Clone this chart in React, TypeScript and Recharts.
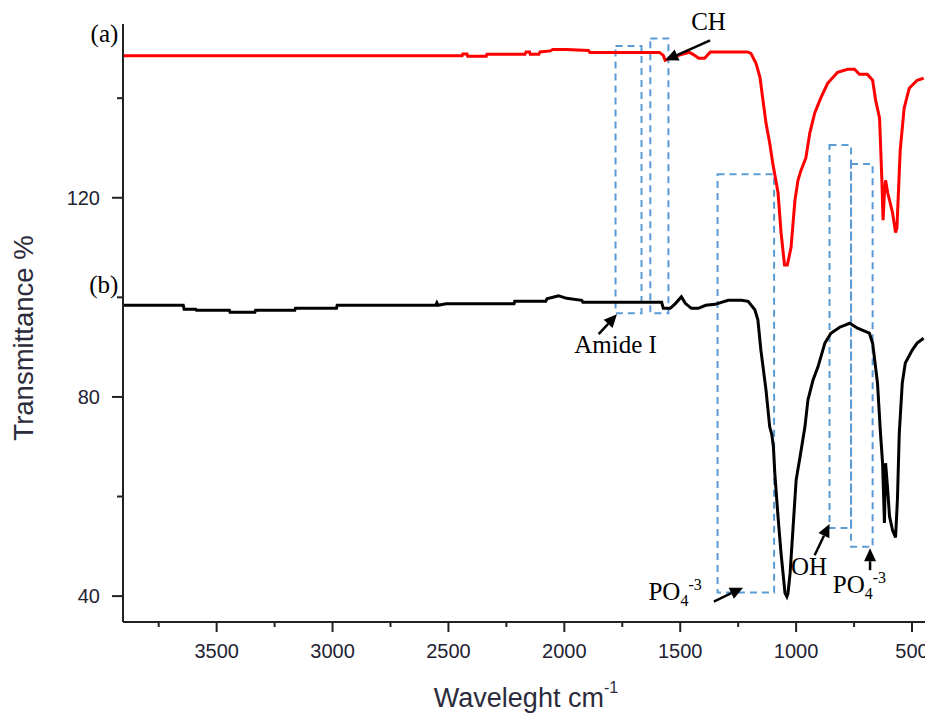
import React from 'react';
import { LineChart, Line, XAxis, YAxis, ReferenceArea, ReferenceLine, ReferenceDot } from 'recharts';

// spectrum (a) - red
const wavesA = [
  3904, 2441, 2438, 2420, 2417, 2337, 2334, 2170, 2165, 2150, 2147, 2110, 2105, 2060, 2050, 1990,
  1896, 1890, 1590, 1573, 1565, 1545, 1500, 1460, 1445, 1420, 1395, 1370, 1210, 1195, 1173, 1156,
  1143, 1130, 1114, 1101, 1078, 1065, 1050, 1038, 1022, 1005, 992, 979, 958, 941, 920, 894, 864,
  821, 778, 748, 727, 693, 670, 657, 640, 636, 630, 625, 619, 614, 605, 597, 584, 571, 565, 551,
  534, 512, 478, 450,
];
const transA = [
  148.5, 148.5, 148.9, 148.9, 148.4, 148.4, 148.8, 148.8, 149.3, 149.3, 148.8, 148.8, 149.3, 149.5, 149.8, 149.8,
  149.6, 149.2, 149.2, 148.6, 147.6, 148.0, 148.7, 149.2, 148.8, 148.0, 148.0, 149.3, 149.3, 149.0, 147.0, 144.2,
  139.6, 135.0, 131.0, 127.0, 121.0, 113.0, 106.5, 106.5, 110.0, 119.5, 123.5, 125.5, 128.0, 133.0, 137.0, 140.0, 143.0,
  145.2, 145.8, 145.8, 144.8, 144.8, 143.6, 139.6, 136.0, 131.0, 123.5, 115.5, 121.0, 123.5, 121.0, 119.5, 117.0, 113.0, 114.0, 129.5,
  138.0, 142.0, 143.6, 144.0,
];

// spectrum (b) - black
const wavesB = [
  3904, 3644, 3640, 3590, 3587, 3445, 3442, 3335, 3332, 3163, 3160, 2983, 2980, 2555, 2550, 2545,
  2510, 2217, 2214, 2080, 2075, 2025, 2010, 1990, 1925, 1920, 1580, 1573, 1543, 1520, 1495, 1478,
  1452, 1422, 1390, 1350, 1293, 1236, 1207, 1178, 1165, 1152, 1130, 1114, 1105, 1098, 1092, 1078,
  1065, 1048, 1040, 1035, 1026, 1013, 1000, 983, 962, 949, 927, 906, 876, 850, 812, 769, 735, 684,
  670, 649, 636, 627, 619, 614, 606, 597, 584, 571, 563, 555, 542, 529, 499, 478, 450,
];
const transB = [
  98.4, 98.4, 97.6, 97.6, 97.4, 97.4, 97.0, 97.0, 97.4, 97.4, 97.8, 97.8, 98.4, 98.4, 98.9, 98.4,
  98.7, 98.7, 99.2, 99.2, 99.7, 100.3, 100.1, 99.8, 99.4, 99.0, 99.0, 97.8, 97.8, 98.8, 100.1, 98.8,
  97.8, 97.8, 98.4, 98.6, 99.4, 99.4, 99.2, 97.5, 95.5, 89.4, 81.4, 74.0, 72.5, 70.0, 64.7, 55.9,
  48.6, 40.6, 39.9, 40.6, 44.6, 53.9, 63.3, 68.0, 74.0, 79.4, 83.4, 86.0, 90.8, 92.8, 94.0, 94.8, 93.8, 92.8,
  90.8, 82.8, 72.7, 66.7, 54.7, 66.7, 62.0, 56.0, 53.2, 51.8, 59.3, 72.7, 82.8, 86.8, 89.4, 90.8, 91.8,
];

const xMajor = [3500, 3000, 2500, 2000, 1500, 1000, 500];
const xMinor = [3750, 3250, 2750, 2250, 1750, 1250, 750];
const yMajor = [40, 80, 120];
const yMinor = [60, 100, 140];

// dashed boxes: [wn left, wn right, T top, T bottom]
const boxes = [
  [1779, 1667, 150.5, 96.8],
  [1629, 1551, 152.0, 96.8],
  [1339, 1095, 124.7, 40.7],
  [856, 763, 130.6, 53.7],
  [763, 670, 126.8, 49.9],
];

// arrows: [tail wn, tail T, tip wn, tip T]
const arrows = [
  [1371, 151.6, 1565, 147.6],
  [1852, 92.6, 1773, 96.6],
  [1355, 38.9, 1229, 41.7],
  [920, 48.2, 856, 54.5],
  [681, 45.2, 681, 49.6],
];

const dataA = wavesA.map((w, i) => ({ wn: w, t: transA[i] }));
const dataB = wavesB.map((w, i) => ({ wn: w, t: transB[i] }));

const AXIS = '#222';
const TICK_TEXT = '#222233';
const SANS = '"Liberation Sans", Arial, sans-serif';
const SERIF = '"Liberation Serif", "Times New Roman", serif';

const XTick = (props: any) => {
  const { x, y, payload } = props;
  const major = xMajor.includes(payload.value);
  return (
    <g>
      <line x1={x} y1={y} x2={x} y2={y + (major ? 10 : 5)} stroke={AXIS} strokeWidth={2} />
      {major && (
        <text x={x} y={y + 36} textAnchor="middle" fontFamily={SANS} fontSize={20} fill={TICK_TEXT}>
          {payload.value}
        </text>
      )}
    </g>
  );
};

const YTick = (props: any) => {
  const { x, y, payload } = props;
  const major = yMajor.includes(payload.value);
  return (
    <g>
      <line x1={x} y1={y} x2={x - (major ? 11 : 6)} y2={y} stroke={AXIS} strokeWidth={2} />
      {major && (
        <text x={x - 23} y={y + 7} textAnchor="end" fontFamily={SANS} fontSize={20} fill={TICK_TEXT}>
          {payload.value}
        </text>
      )}
    </g>
  );
};

const Arrow = (p: any) => {
  const { x1, y1, x2, y2 } = p;
  const a = Math.atan2(y2 - y1, x2 - x1);
  const len = 13;
  const hw = 6;
  const bx = x2 - len * Math.cos(a);
  const by = y2 - len * Math.sin(a);
  const px = -Math.sin(a) * hw;
  const py = Math.cos(a) * hw;
  return (
    <g>
      <line x1={x1} y1={y1} x2={bx} y2={by} stroke="#000" strokeWidth={2.5} />
      <polygon points={`${x2},${y2} ${bx + px},${by + py} ${bx - px},${by - py}`} fill="#000" />
    </g>
  );
};

const note = (content: React.ReactNode, anchor: string) => (p: any) => (
  <text x={p.cx} y={p.cy} textAnchor={anchor} fontFamily={SERIF} fontSize={25} fill="#000">
    {content}
  </text>
);

const po4 = (
  <>
    PO<tspan fontSize={16} dy={6}>4</tspan>
    <tspan fontSize={16} dy={-16}>-3</tspan>
  </>
);

const App: React.FC = () => {
  return (
    <div style={{ position: 'absolute', left: 0, top: 0, width: 925, height: 715, background: '#fff' }}>
      <LineChart width={925} height={715} margin={{ top: 24, right: 0, bottom: 0, left: 0 }}>
        <XAxis
          dataKey="wn"
          type="number"
          domain={[444, 3904]}
          reversed
          allowDataOverflow
          ticks={[...xMinor, ...xMajor].sort((a, b) => b - a)}
          interval={0}
          tickSize={0}
          tickMargin={0}
          tick={<XTick />}
          axisLine={{ stroke: AXIS, strokeWidth: 2 }}
          height={93}
        />
        <YAxis
          type="number"
          domain={[34.8, 154.9]}
          allowDataOverflow
          ticks={[...yMajor, ...yMinor].sort((a, b) => a - b)}
          interval={0}
          tickSize={0}
          tickMargin={0}
          tick={<YTick />}
          axisLine={{ stroke: AXIS, strokeWidth: 2 }}
          width={123}
        />

        {boxes.map((b, i) => (
          <ReferenceArea
            key={`box-${i}`}
            x1={b[0]}
            x2={b[1]}
            y1={b[2]}
            y2={b[3]}
            fill="none"
            fillOpacity={0}
            stroke="#5B9BD5"
            strokeWidth={2}
            strokeDasharray="7 5"
            ifOverflow="visible"
          />
        ))}

        <Line data={dataA} dataKey="t" stroke="#ff0000" strokeWidth={3} dot={false} type="linear" isAnimationActive={false} />
        <Line data={dataB} dataKey="t" stroke="#000000" strokeWidth={3} dot={false} type="linear" isAnimationActive={false} />

        {arrows.map((a, i) => (
          <ReferenceLine
            key={`arrow-${i}`}
            segment={[{ x: a[0], y: a[1] }, { x: a[2], y: a[3] }]}
            ifOverflow="visible"
            shape={(p: any) => <Arrow {...p} />}
          />
        ))}

        <ReferenceDot x={3924} y={151.2} r={0} ifOverflow="visible" shape={note('(a)', 'end')} />
        <ReferenceDot x={3924} y={100.8} r={0} ifOverflow="visible" shape={note('(b)', 'end')} />
        <ReferenceDot x={1378} y={153.7} r={0} ifOverflow="visible" shape={note('CH', 'middle')} />
        <ReferenceDot x={1779} y={88.8} r={0} ifOverflow="visible" shape={note('Amide I', 'middle')} />
        <ReferenceDot x={1637} y={39.2} r={0} ifOverflow="visible" shape={note(po4, 'start')} />
        <ReferenceDot x={1022} y={44.2} r={0} ifOverflow="visible" shape={note('OH', 'start')} />
        <ReferenceDot x={842} y={40.6} r={0} ifOverflow="visible" shape={note(po4, 'start')} />
      </LineChart>

      <svg width={925} height={715} style={{ position: 'absolute', left: 0, top: 0, pointerEvents: 'none' }}>
        <text
          x={33}
          y={338}
          transform="rotate(-90, 33, 338)"
          textAnchor="middle"
          fontFamily={SANS}
          fontSize={27.5}
          fill="#2b2b3b"
        >
          Transmittance %
        </text>
        <text x={526} y={707} textAnchor="middle" fontFamily={SANS} fontSize={27} fill="#2b2b3b">
          Waveleght cm<tspan fontSize={16} dy={-14}>-1</tspan>
        </text>
      </svg>
    </div>
  );
};

export default App;
